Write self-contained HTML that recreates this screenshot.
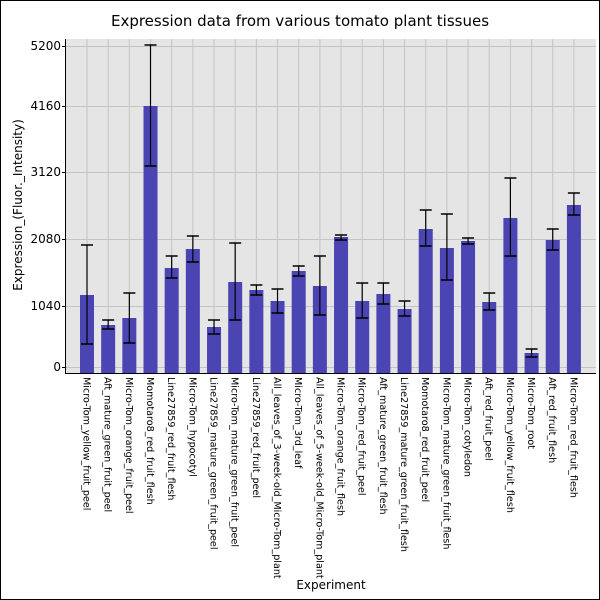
<!DOCTYPE html>
<html><head><style>body{margin:0;background:#fff}svg{display:block}</style></head><body>
<svg width="600" height="600" xmlns="http://www.w3.org/2000/svg" font-family="DejaVu Sans, Liberation Sans, sans-serif">
<rect x="0.5" y="0.5" width="599" height="599" fill="#fff" stroke="#000"/>
<text x="300" y="26" font-size="15" text-anchor="middle">Expression data from various tomato plant tissues</text>
<rect x="65" y="39" width="531" height="334" fill="#e5e5e5"/>
<g stroke="#c4c4c4" stroke-width="1" id="grid"></g>
<g id="bars"></g>
<line x1="65.5" y1="39" x2="65.5" y2="373" stroke="#000"/>
<line x1="65" y1="373.5" x2="596" y2="373.5" stroke="#000"/>
<g font-size="12" text-anchor="end" id="yt"></g>
<text transform="translate(22,205) rotate(-90)" font-size="12" text-anchor="middle">Expression_(Fluor._Intensity)</text>
<text x="331" y="589" font-size="12" text-anchor="middle">Experiment</text>
<g font-size="9.6" id="xl"></g>
</svg>
<script>
const ns="http://www.w3.org/2000/svg";
function el(p,t,a,txt){const e=document.createElementNS(ns,t);for(const k in a)e.setAttribute(k,a[k]);if(txt)e.textContent=txt;document.getElementById(p).appendChild(e);}
const names=["Micro-Tom_yellow_fruit_peel","Aft_mature_green_fruit_peel","Micro-Tom_orange_fruit_peel","Momotaro8_red_fruit_flesh","Line27859_red_fruit_flesh","Micro-Tom_hypocotyl","Line27859_mature_green_fruit_peel","Micro-Tom_mature_green_fruit_peel","Line27859_red_fruit_peel","All_leaves_of_3-week-old_Micro-Tom_plant","Micro-Tom_3rd_leaf","All_leaves_of_5-week-old_Micro-Tom_plant","Micro-Tom_orange_fruit_flesh","Micro-Tom_red_fruit_peel","Aft_mature_green_fruit_flesh","Line27859_mature_green_fruit_flesh","Momotaro8_red_fruit_peel","Micro-Tom_mature_green_fruit_flesh","Micro-Tom_cotyledon","Aft_red_fruit_peel","Micro-Tom_yellow_fruit_flesh","Micro-Tom_root","Aft_red_fruit_flesh","Micro-Tom_red_fruit_flesh"];
const d=[[295,245,344],[325,320,329],[318,293,343],[106,45,166],[268,256,278],[249,236,262],[327,320,334],[282,243,320],[290,285,295],[301,289,313],[271,266,276],[286,256,315],[237,235,240],[301,283,318],[294,283,304],[309,301,316],[229,210,246],[248,214,280],[241,238,244],[302,293,310],[218,178,256],[353,349,357],[240,229,250],[205,193,215]];
const ty=[[367,"0"],[306,"1040"],[239,"2080"],[172,"3120"],[106,"4160"],[46,"5200"]];
ty.forEach(([y,t])=>{el("grid","line",{x1:65,x2:596,y1:y+0.5,y2:y+0.5});el("yt","text",{x:61,y:y+4},t);el("yt","line",{x1:62,x2:65,y1:y+0.5,y2:y+0.5,stroke:"#000"});});
for(let i=0;i<24;i++){const cx=87+i*21.17;
el("grid","line",{x1:cx,x2:cx,y1:39,y2:373});
const [t,a,b]=d[i];
el("bars","rect",{x:cx-7,y:t,width:14,height:373-t,fill:"#4b44b3"});
el("bars","line",{x1:cx,x2:cx,y1:a,y2:b,stroke:"#000","stroke-width":1.2});
el("bars","line",{x1:cx-6,x2:cx+6,y1:a,y2:a,stroke:"#000","stroke-width":1.5});
el("bars","line",{x1:cx-6,x2:cx+6,y1:b,y2:b,stroke:"#000","stroke-width":1.5});
el("xl","text",{transform:`translate(${cx-3.5},377) rotate(90)`},names[i]);}
</script>
</body></html>
